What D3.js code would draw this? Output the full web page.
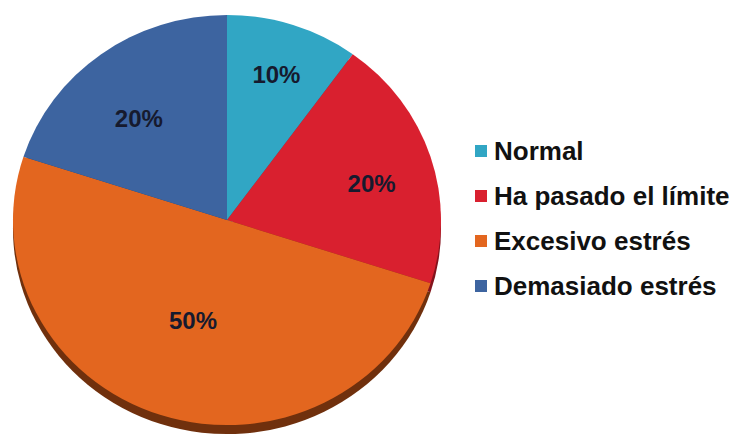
<!DOCTYPE html>
<html>
<head>
<meta charset="utf-8">
<script src="https://cdn.jsdelivr.net/npm/d3@7"></script>
<style>
  body { margin: 0; background: #fff; }
  text { font-family: "Liberation Sans", Arial, sans-serif; font-weight: bold; }
</style>
</head>
<body>
<div class="pie"></div>
<script>
var categories = ["Normal", "Ha pasado el límite", "Excesivo estrés", "Demasiado estrés"];
var values = [10, 20, 50, 20];
var labels = ["10%", "20%", "50%", "20%"];

var colors = ["#31a6c4", "#d9202f", "#e3661f", "#3d64a0"];
var sideColors = ["#1e6a80", "#84131d", "#70300d", "#24406a"];

var svgWidth = 737;
var svgHeight = 436;

var cx = 227, cy = 220;
var radius = 214;
var squash = 0.958;
var depth = 9;

// best-fit label placement: distance from centre and a small vertical nudge
var labelDist = [160, 152, 110, 150];
var labelNudge = [0, 9, 0, 15];

var svg = d3.select(".pie")
  .append("svg")
  .attr("width", svgWidth)
  .attr("height", svgHeight);

var pie = d3.pie()
  .sort(null)
  .value(d => d.value);

var data = categories.map(function(c, i) {
  return { name: c, value: values[i], label: labels[i], i: i };
});
var arcs = pie(data);

var arc = d3.arc()
  .innerRadius(0)
  .outerRadius(radius);

// side of the disc, seen below the top face
svg.append("g")
  .attr("transform", `translate(${cx}, ${cy + depth}) scale(1, ${squash})`)
  .selectAll("path")
  .data(arcs)
  .enter()
  .append("path")
  .attr("d", arc)
  .attr("fill", d => sideColors[d.data.i]);

svg.append("g")
  .attr("transform", `translate(${cx}, ${cy}) scale(1, ${squash})`)
  .selectAll("path")
  .data(arcs)
  .enter()
  .append("path")
  .attr("d", arc)
  .attr("fill", d => colors[d.data.i]);

svg.append("g")
  .selectAll("text")
  .data(arcs)
  .enter()
  .append("text")
  .attr("x", function(d) {
    var a = (d.startAngle + d.endAngle) / 2;
    return cx + labelDist[d.data.i] * Math.sin(a);
  })
  .attr("y", function(d) {
    var a = (d.startAngle + d.endAngle) / 2;
    return cy - labelDist[d.data.i] * Math.cos(a) * squash + labelNudge[d.data.i];
  })
  .attr("dy", "0.35em")
  .attr("text-anchor", "middle")
  .attr("font-size", "24px")
  .attr("fill", "#161a2e")
  .text(d => d.data.label);

// legend
var legend = svg.append("g")
  .attr("transform", "translate(475, 151)");

var item = legend.selectAll("g")
  .data(categories)
  .enter()
  .append("g")
  .attr("transform", (d, i) => `translate(0, ${i * 45})`);

item.append("rect")
  .attr("x", 0)
  .attr("y", -6)
  .attr("width", 12)
  .attr("height", 12)
  .attr("fill", (d, i) => colors[i]);

item.append("text")
  .attr("x", 19)
  .attr("dy", "0.35em")
  .attr("font-size", "26px")
  .attr("fill", "#111")
  .text(d => d);
</script>
</body>
</html>
